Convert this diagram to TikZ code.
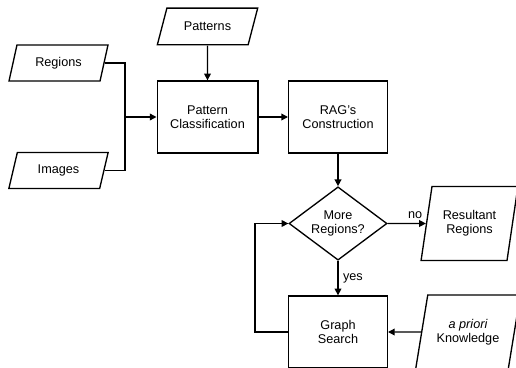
\documentclass[tikz,border=0pt]{standalone}
\usepackage{fontspec}
\setmainfont{Liberation Sans}
\usetikzlibrary{shapes.geometric,arrows.meta}

\tikzset{
  flow/.style={draw,line width=1pt,font=\fontsize{9.5}{10.5}\selectfont,align=center,inner sep=1pt},
  procbox/.style={flow,rectangle,minimum width=74pt,minimum height=54pt},
  decbox/.style={flow,diamond,aspect=1.34,minimum width=73.5pt,minimum height=55pt},
  databox/.style={flow,trapezium,trapezium stretches=true,trapezium left angle=#1,trapezium right angle=180-#1},
  databox/.default=72,
  link/.style={line width=1pt,-{Triangle[length=5pt,width=5pt]}},
  plain/.style={line width=1pt}
}

\begin{document}
\begin{tikzpicture}[x=0.75pt,y=0.75pt,yscale=-1,xscale=1]
\useasboundingbox (0,0) rectangle (516,367);
\clip (0,0) rectangle (516,367);

%Shape: Parallelogram [inputs]
\node [databox=63,minimum width=75.5pt,minimum height=27.5pt] (patterns) at (207.5,26.5) {Patterns};
\node [databox=72,minimum width=74.5pt,minimum height=27pt] (regions) at (58.5,63) {Regions};
\node [databox=72,minimum width=74.5pt,minimum height=27pt] (images) at (58.5,170.5) {Images};

%Shape: Rectangle [processes]
\node [procbox,minimum width=75.5pt] (classif) at (207.5,117) {Pattern\\Classification};
\node [procbox] (rag) at (338,117) {RAG's\\Construction};
\node [decbox] (more) at (338,223.5) {More\\Regions?};
\node [procbox] (search) at (338,332) {Graph\\Search};

%Shape: Parallelogram [outputs]
\node [databox=74,minimum width=73pt,minimum height=55.5pt] (result) at (469.5,223.5) {Resultant\\Regions};
\node [databox=71,minimum width=79pt,minimum height=55.5pt] (knowledge) at (468,332) {\itshape a priori\\Knowledge};

%Straight Lines [merge]
\coordinate (merge) at (125,117);
\draw [plain] (regions) -| (merge);
\draw [plain] (images) -| (merge);
\draw [link] (merge) -- (classif);
\draw [link] (patterns) -- (classif);
\draw [link] (classif) -- (rag);
\draw [link] (rag) -- (more);

%Straight Lines [decision]
\draw [link] (more) -- node [above,pos=0.72,font=\fontsize{9.5}{10.5}\selectfont] {no} (result);
\draw [link] (more) -- node [right,pos=0.5,font=\fontsize{9.5}{10.5}\selectfont] {yes} (search);
\draw [link] (knowledge) -- (search);

%Straight Lines [loop]
\draw [link] (search.west) -- ++(-33,0) |- (more.west);

\end{tikzpicture}
\end{document}
